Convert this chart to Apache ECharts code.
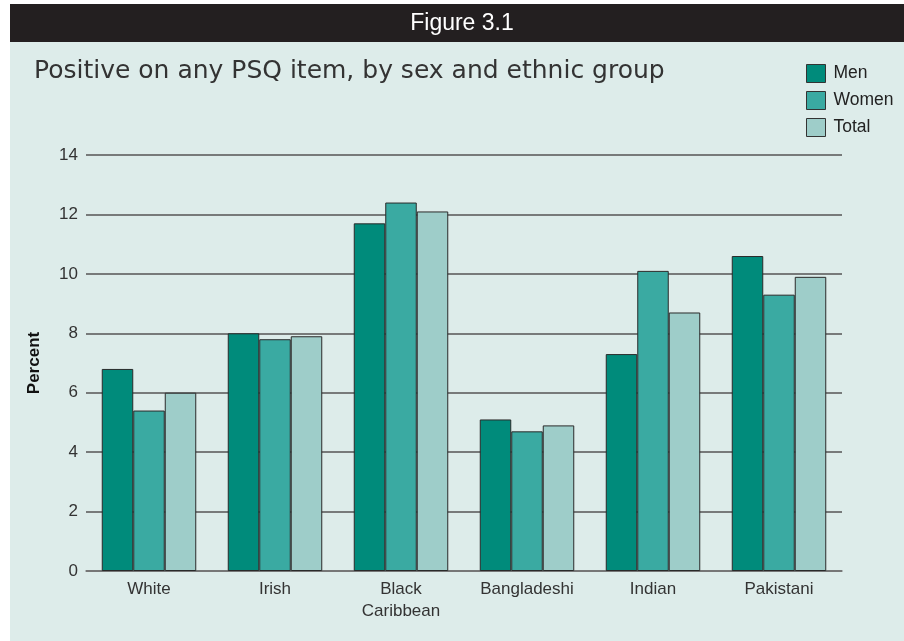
<!DOCTYPE html>
<html>
<head>
    <meta charset="utf-8">
    <title>Figure 3.1</title>
    <script src="https://cdn.jsdelivr.net/npm/echarts@6/dist/echarts.min.js"></script>
    <style>
        body, html { margin: 0; padding: 0; width: 100%; height: 100%; overflow: hidden; background: #fff; }
        #main { width: 904px; height: 641px; }
    </style>
</head>
<body>
    <div id="main"></div>
    <script>
        var myChart = echarts.init(document.getElementById('main'));

        // data
        const groups = ['White', 'Irish', 'Black\nCaribbean', 'Bangladeshi', 'Indian', 'Pakistani'];
        const men = [6.8, 8.0, 11.7, 5.1, 7.3, 10.6];
        const women = [5.4, 7.8, 12.4, 4.7, 10.1, 9.3];
        const total = [6.0, 7.9, 12.1, 4.9, 8.7, 9.9];
        const yTicks = [0, 14, 2];

        const seriesNames = ['Men', 'Women', 'Total'];
        const seriesData = [men, women, total];
        const colors = ['#008b7b', '#3aaaa2', '#9ecdc9'];
        const font = '"Liberation Sans", Arial, sans-serif';

        const option = {
            animation: false,
            backgroundColor: '#fff',
            graphic: [
                { type: 'rect', shape: { x: 10, y: 4, width: 894, height: 637 }, style: { fill: '#ddecea' }, z: -10 },
                { type: 'rect', shape: { x: 10, y: 4, width: 894, height: 38 }, style: { fill: '#231f20' }, z: -9 },
                {
                    type: 'text', x: 462, y: 24,
                    style: { text: 'Figure 3.1', fill: '#fff', font: '23px ' + font, align: 'center', verticalAlign: 'middle' }
                },
                {
                    type: 'text', x: 34, y: 71,
                    style: { text: 'Positive on any PSQ item, by sex and ethnic group', fill: '#333', font: '25px "DejaVu Sans", sans-serif', verticalAlign: 'middle' }
                }
            ],
            legend: {
                data: seriesNames,
                orient: 'vertical',
                left: 801,
                top: 59,
                itemWidth: 19,
                itemHeight: 18,
                itemGap: 8,
                icon: 'rect',
                textStyle: { color: '#222', fontSize: 17.5, fontFamily: font, padding: [0, 0, 0, 3] },
                itemStyle: { borderColor: '#333', borderWidth: 1 }
            },
            grid: { left: 86, right: 62, top: 155, bottom: 70, containLabel: false },
            xAxis: {
                type: 'category',
                data: groups,
                axisLine: { show: true, lineStyle: { color: '#777', width: 1.5 } },
                axisTick: { show: false },
                axisLabel: { color: '#333', fontSize: 17, fontFamily: font, margin: 7, lineHeight: 22 }
            },
            yAxis: {
                type: 'value',
                min: yTicks[0],
                max: yTicks[1],
                interval: yTicks[2],
                name: 'Percent',
                nameLocation: 'middle',
                nameGap: 43,
                nameTextStyle: { color: '#111', fontSize: 17, fontWeight: 'bold', fontFamily: font },
                axisLine: { show: false },
                axisTick: { show: false },
                axisLabel: { color: '#333', fontSize: 17, fontFamily: font, margin: 8 },
                splitLine: { lineStyle: { color: '#555', width: 1.5 } }
            },
            series: seriesNames.map((name, i) => ({
                name: name,
                type: 'bar',
                data: seriesData[i],
                barGap: '0%',
                barCategoryGap: '25%',
                itemStyle: { color: colors[i], borderColor: '#2a2a2a', borderWidth: 1 }
            }))
        };

        myChart.setOption(option);
    </script>
</body>
</html>
